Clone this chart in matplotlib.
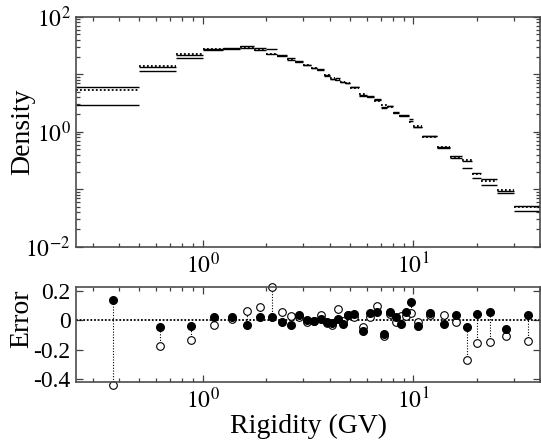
import numpy as np
import matplotlib
matplotlib.use("Agg")
from matplotlib import pyplot as plt
from matplotlib.ticker import LogLocator, FuncFormatter, NullFormatter

## Data
edges = [0.25, 0.5, 0.75, 1.0, 1.25, 1.5, 1.75, 2.0, 2.25, 2.5, 2.75, 3.0, 3.25,
         3.5, 3.75, 4.0, 4.25, 4.5, 4.75, 5.0, 5.5, 6.0, 6.5, 7.0, 7.5, 8.0, 8.5,
         9.0, 9.5, 10.0, 11.0, 13.0, 15.0, 17.0, 19.0, 21.0, 25.0, 30.0, 40.0]

density = [5.3, 14.1, 22.5, 27.4, 27.6, 29.5, 26.4, 22.5, 21.0, 18.4, 16.3, 14.5,
           12.8, 11.8, 9.7, 8.6, 7.9, 7.4, 6.95, 5.8, 4.5, 4.0, 3.42, 2.95, 2.69,
           2.14, 1.92, 1.85, 1.49, 1.24, 0.81, 0.535, 0.359, 0.326, 0.184, 0.141,
           0.097, 0.0497]

# relative error of the two models vs data
err_filled = [0.137, -0.046, -0.039, 0.018, 0.023, -0.03, 0.023, 0.023, -0.016,
              -0.034, 0.034, 0.0, -0.007, 0.011, -0.014, -0.018, 0.009, -0.025,
              0.036, 0.041, -0.075, 0.048, 0.055, -0.091, 0.057, 0.023, -0.023,
              0.052, 0.121, -0.037, 0.05, -0.025, 0.036, -0.046, 0.041, 0.052,
              -0.057, 0.036]
err_open = [-0.44, -0.176, -0.137, -0.03, 0.005, 0.064, 0.091, 0.228, 0.053,
            0.027, 0.02, -0.01, -0.005, 0.034, -0.018, -0.034, 0.073, -0.005,
            0.036, 0.02, -0.046, 0.023, 0.098, -0.11, 0.04, -0.011, 0.03, 0.03,
            0.048, -0.016, 0.036, 0.036, -0.014, -0.27, -0.153, -0.148, -0.11,
            -0.144]

edges = np.array(edges)
density = np.array(density)
err_filled = np.array(err_filled)
err_open = np.array(err_open)
lo, hi = edges[:-1], edges[1:]
centers = (lo + hi) / 2
model_filled = density * (1 + err_filled)
model_open = density * (1 + err_open)

plt.rcParams['font.family'] = ['Liberation Serif', 'DejaVu Serif']
plt.rcParams['mathtext.fontset'] = 'stix'
plt.rcParams['axes.unicode_minus'] = False

fig = plt.figure(figsize=(5.41, 4.43), dpi=100)
ax1 = fig.add_axes([0.1405, 0.443, 0.858, 0.519])
ax2 = fig.add_axes([0.1405, 0.137, 0.858, 0.216])

#### Top panel ####
ax1.hlines(model_filled, lo, hi, colors='black', lw=1.0)
ax1.hlines(model_open, lo, hi, colors='black', lw=1.0)
ax1.hlines(density, lo, hi, colors='black', lw=1.3, linestyles=(0, (1, 1.2)))
ax1.set_xscale('log')
ax1.set_yscale('log')
ax1.set_xlim(0.25, 40)
ax1.set_ylim(1e-2, 1e2)
ax1.set_ylabel('Density', fontsize=20)
ax1.yaxis.set_label_coords(-0.088, 0.5)
ax1.yaxis.set_major_locator(LogLocator(base=10, numticks=10))
ax1.yaxis.set_major_formatter(FuncFormatter(
    lambda v, p: r'$10^{%d}$' % round(np.log10(v)) if round(np.log10(v)) % 2 == 0 else ''))
ax1.yaxis.set_minor_locator(LogLocator(base=10, subs=np.arange(2, 10), numticks=20))
ax1.yaxis.set_minor_formatter(NullFormatter())

#### Bottom panel ####
ax2.axhline(0, color='black', lw=1.3, ls=(0, (1, 1)))
ax2.vlines(centers, np.minimum(err_filled, err_open), np.maximum(err_filled, err_open),
           colors='black', lw=0.8, linestyles=(0, (1, 1.5)), clip_on=False)
ax2.plot(centers, err_open, 'o', ms=5.5, mfc='white', mec='black', mew=0.8, clip_on=False)
ax2.plot(centers, err_filled, 'o', ms=5.5, mfc='black', mec='black', clip_on=False)
ax2.set_xscale('log')
ax2.set_xlim(0.25, 40)
ax2.set_ylim(-0.423, 0.228)
ax2.set_yticks([0.2, 0, -0.2, -0.4])
ax2.set_yticklabels(['0.2', '0', '-0.2', '-0.4'])
ax2.set_ylabel('Error', fontsize=20)
ax2.yaxis.set_label_coords(-0.09, 0.66)
ax2.set_xlabel('Rigidity (GV)', fontsize=20, labelpad=0)

for ax in (ax1, ax2):
    ax.xaxis.set_major_locator(LogLocator(base=10, numticks=10))
    ax.xaxis.set_major_formatter(FuncFormatter(lambda v, p: r'$10^{%d}$' % round(np.log10(v))))
    ax.xaxis.set_minor_locator(LogLocator(base=10, subs=np.arange(2, 10), numticks=20))
    ax.xaxis.set_minor_formatter(NullFormatter())
    ax.tick_params(which='both', direction='in', top=True, right=True, labelsize=17,
                   color='0.25', width=0.9)
    ax.tick_params(which='major', length=5, pad=4)
    ax.tick_params(which='minor', length=3)
    for s in ax.spines.values():
        s.set_linewidth(1.2)
        s.set_color('0.3')

plt.savefig('out.png', dpi=100)
